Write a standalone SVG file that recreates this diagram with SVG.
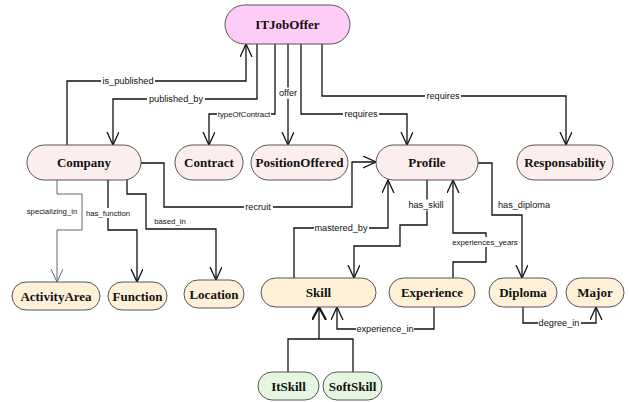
<svg xmlns="http://www.w3.org/2000/svg" width="629" height="402" viewBox="0 0 629 402">
  <defs>
    <style>
      .node rect { stroke: #555; stroke-width: 1; }
      .top rect { fill: #ffccf6; }
      .mid rect { fill: #fdeeee; }
      .low rect { fill: #fff1d8; }
      .sub rect { fill: #e5f7e0; }
      .node text { font-family: "Liberation Serif", "DejaVu Serif", serif; font-weight: bold; font-size: 13px; fill: #111; text-anchor: middle; }
      .edges path { fill: none; stroke: #111; stroke-width: 1.3; }
      .edges path.light { stroke: #666; stroke-width: 1; }
      .edges rect { fill: #fff; }
      .edges text { font-family: "Liberation Sans", Arial, sans-serif; font-size: 9.2px; fill: #111; text-anchor: middle; }
      .edges text.sm { font-size: 7.8px; }
    </style>
    <marker id="arrow" markerUnits="userSpaceOnUse" markerWidth="14" markerHeight="14" refX="13" refY="6" orient="auto">
      <path d="M0,0 L13,6 L0,12" fill="none" stroke="#111" stroke-width="1.3"/>
    </marker>
    <marker id="arrow-light" markerUnits="userSpaceOnUse" markerWidth="14" markerHeight="14" refX="13" refY="6" orient="auto">
      <path d="M0,0 L13,6 L0,12" fill="none" stroke="#666" stroke-width="1"/>
    </marker>
    <marker id="inherit" markerUnits="userSpaceOnUse" markerWidth="16" markerHeight="16" refX="13" refY="7" orient="auto">
      <path d="M0,0 L13,7 L0,14" fill="none" stroke="#111" stroke-width="2.2"/>
    </marker>
  </defs>

  <!-- relations -->
  <g id="connectors" class="edges">
    <path d="M67,145 V81 H246 V44" marker-end="url(#arrow)"/>
    <path d="M257,44 V99 H113 V145" marker-end="url(#arrow)"/>
    <path d="M275,44 V114 H209 V145" marker-end="url(#arrow)"/>
    <path d="M288,44 V145" marker-end="url(#arrow)"/>
    <path d="M301,44 V114 H407 V145" marker-end="url(#arrow)"/>
    <path d="M322,44 V96 H566 V145" marker-end="url(#arrow)"/>
    <path d="M141,163 H164 V207 H352 V162 H376" marker-end="url(#arrow)"/>
    <path class="light" d="M57,180 V194 H82 V230 H57 V282" marker-end="url(#arrow-light)"/>
    <path d="M108,180 V230 H137 V282" marker-end="url(#arrow)"/>
    <path d="M127,180 V194 H146 V229 H216 V280" marker-end="url(#arrow)"/>
    <path d="M294,278 V228 H388 V180" marker-end="url(#arrow)"/>
    <path d="M427,180 V225 H400 V246 H354 V278" marker-end="url(#arrow)"/>
    <path d="M453,278 V262 H486 V233 H453 V180" marker-end="url(#arrow)"/>
    <path d="M478,163 H492 V215 H522 V278" marker-end="url(#arrow)"/>
    <path d="M523,307 V323 H596 V307" marker-end="url(#arrow)"/>
    <path d="M434,307 V329 H337 V307" marker-end="url(#arrow)"/>
    <path d="M288,372 V339 H353 V372"/>
    <path d="M319,339 V307" stroke-width="1.6" marker-end="url(#inherit)"/>

    <!-- label backgrounds -->
    <rect x="101" y="75.5" width="54" height="11"/>
    <rect x="147" y="93.5" width="58" height="11"/>
    <rect x="217" y="109" width="54" height="10"/>
    <rect x="278" y="87.5" width="20" height="11"/>
    <rect x="343" y="108.5" width="36" height="11"/>
    <rect x="425" y="90.5" width="36" height="11"/>
    <rect x="244" y="201.5" width="29" height="11"/>
    <rect x="85" y="208" width="46" height="10"/>
    <rect x="314" y="222.5" width="55" height="11"/>
    <rect x="407" y="199.5" width="38" height="11"/>
    <rect x="452" y="237" width="66" height="10"/>
    <rect x="538" y="317.5" width="43" height="11"/>
    <rect x="356" y="323.5" width="58" height="11"/>

    <text x="128" y="81" dy="0.35em">is_published</text>
    <text x="176" y="99" dy="0.35em">published_by</text>
    <text class="sm" x="244" y="114" dy="0.35em">typeOfContract</text>
    <text x="288" y="93" dy="0.35em">offer</text>
    <text x="361" y="114" dy="0.35em">requires</text>
    <text x="443" y="96" dy="0.35em">requires</text>
    <text x="258" y="207" dy="0.35em">recruit</text>
    <text class="sm" x="52" y="211" dy="0.35em">specializing_in</text>
    <text class="sm" x="108" y="213" dy="0.35em">has_function</text>
    <text class="sm" x="170" y="221" dy="0.35em">based_in</text>
    <text x="341" y="228" dy="0.35em">mastered_by</text>
    <text x="426" y="205" dy="0.35em">has_skill</text>
    <text class="sm" x="485" y="242" dy="0.35em">experiences_years</text>
    <text x="524" y="205" dy="0.35em">has_diploma</text>
    <text x="559" y="323" dy="0.35em">degree_in</text>
    <text x="385" y="329" dy="0.35em">experience_in</text>
  </g>

  <!-- concepts -->
  <g id="ITJobOffer" class="node top"><rect x="225" y="5" width="125" height="39" rx="19.5"/><text x="287.5" y="24.5" dy="0.35em" font-size="14">ITJobOffer</text></g>
  <g id="Company" class="node mid"><rect x="27" y="145" width="114" height="35" rx="17.5"/><text x="84" y="162.5" dy="0.35em">Company</text></g>
  <g id="Contract" class="node mid"><rect x="175" y="145" width="68" height="35" rx="17.5"/><text x="209" y="162.5" dy="0.35em">Contract</text></g>
  <g id="PositionOffered" class="node mid"><rect x="251" y="145" width="97" height="35" rx="17.5"/><text x="299.5" y="162.5" dy="0.35em">PositionOffered</text></g>
  <g id="Profile" class="node mid"><rect x="376" y="145" width="102" height="35" rx="17.5"/><text x="427" y="162.5" dy="0.35em">Profile</text></g>
  <g id="Responsability" class="node mid"><rect x="517" y="145" width="96" height="35" rx="17.5"/><text x="565" y="162.5" dy="0.35em">Responsability</text></g>
  <g id="ActivityArea" class="node low"><rect x="12" y="282" width="88" height="28" rx="14"/><text x="56" y="296" dy="0.35em">ActivityArea</text></g>
  <g id="Function" class="node low"><rect x="108" y="282" width="59" height="28" rx="14"/><text x="137.5" y="296" dy="0.35em">Function</text></g>
  <g id="Location" class="node low"><rect x="184" y="280" width="60" height="28" rx="14"/><text x="214" y="294" dy="0.35em">Location</text></g>
  <g id="Skill" class="node low"><rect x="261" y="278" width="115" height="29" rx="14.5"/><text x="318.5" y="292.5" dy="0.35em">Skill</text></g>
  <g id="Experience" class="node low"><rect x="389" y="278" width="86" height="29" rx="14.5"/><text x="432" y="292.5" dy="0.35em">Experience</text></g>
  <g id="Diploma" class="node low"><rect x="489" y="278" width="68" height="29" rx="14.5"/><text x="523" y="292.5" dy="0.35em">Diploma</text></g>
  <g id="Major" class="node low"><rect x="566" y="278" width="58" height="29" rx="14.5"/><text x="595" y="292.5" dy="0.35em">Major</text></g>
  <g id="ItSkill" class="node sub"><rect x="258" y="372" width="61" height="28" rx="14"/><text x="288.5" y="386" dy="0.35em">ItSkill</text></g>
  <g id="SoftSkill" class="node sub"><rect x="323" y="372" width="59" height="28" rx="14"/><text x="352.5" y="386" dy="0.35em">SoftSkill</text></g>
</svg>
